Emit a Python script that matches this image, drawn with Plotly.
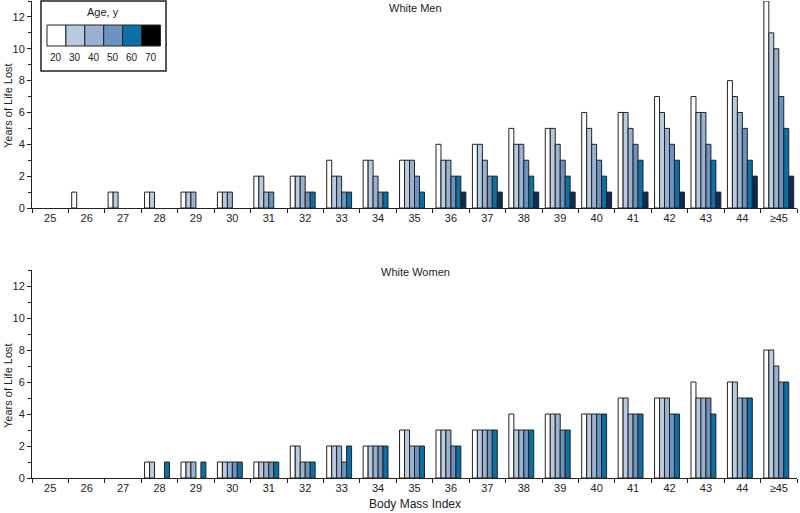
import plotly.graph_objects as go
from plotly.subplots import make_subplots

bmi_labels = ['25', '26', '27', '28', '29', '30', '31', '32', '33', '34', '35',
              '36', '37', '38', '39', '40', '41', '42', '43', '44', '≥45']
ages = ['20', '30', '40', '50', '60', '70']

men_20 = [0, 1, 1, 1, 1, 1, 2, 2, 3, 3, 3, 4, 4, 5, 5, 6, 6, 7, 7, 8, 13]
men_30 = [0, 0, 1, 1, 1, 1, 2, 2, 2, 3, 3, 3, 4, 4, 5, 5, 6, 6, 6, 7, 11]
men_40 = [0, 0, 0, 0, 1, 1, 1, 2, 2, 2, 3, 3, 3, 4, 4, 4, 5, 5, 6, 6, 10]
men_50 = [0, 0, 0, 0, 0, 0, 1, 1, 1, 1, 2, 2, 2, 3, 3, 3, 4, 4, 4, 5, 7]
men_60 = [0, 0, 0, 0, 0, 0, 0, 1, 1, 1, 1, 2, 2, 2, 2, 2, 3, 3, 3, 3, 5]
men_70 = [0, 0, 0, 0, 0, 0, 0, 0, 0, 0, 0, 1, 1, 1, 1, 1, 1, 1, 1, 2, 2]

women_20 = [0, 0, 0, 1, 1, 1, 1, 2, 2, 2, 3, 3, 3, 4, 4, 4, 5, 5, 6, 6, 8]
women_30 = [0, 0, 0, 1, 1, 1, 1, 2, 2, 2, 3, 3, 3, 3, 4, 4, 5, 5, 5, 6, 8]
women_40 = [0, 0, 0, 0, 1, 1, 1, 1, 2, 2, 2, 3, 3, 3, 4, 4, 4, 5, 5, 5, 7]
women_50 = [0, 0, 0, 0, 0, 1, 1, 1, 1, 2, 2, 2, 3, 3, 3, 4, 4, 4, 5, 5, 6]
women_60 = [0, 0, 0, 1, 1, 1, 1, 1, 2, 2, 2, 2, 3, 3, 3, 4, 4, 4, 4, 5, 6]
women_70 = [0, 0, 0, 0, 0, 0, 0, 0, 0, 0, 0, 0, 0, 0, 0, 0, 0, 0, 0, 0, 0]

men = [men_20, men_30, men_40, men_50, men_60, men_70]
women = [women_20, women_30, women_40, women_50, women_60, women_70]

bar_colors = ['#ffffff', '#b9cbe0', '#9ab2d2', '#6c93bf', '#0a70a6', '#0b2c58']
legend_colors = ['#ffffff', '#b9cbe0', '#9ab2d2', '#6c93bf', '#0a70a6', '#000000']

FONT = 'Liberation Sans, Arial, sans-serif'
W, H = 800, 513
ML, MR, MT, MB = 32, 3, 1, 35
PW, PH = W - ML - MR, H - MT - MB


def px_x(x):
    return (x - ML) / PW


def px_y(y):
    return (H - MB - y) / PH


fig = make_subplots(rows=2, cols=1, vertical_spacing=0.0)

for row, data in ((1, men), (2, women)):
    for age, vals, col in zip(ages, data, bar_colors):
        fig.add_trace(go.Bar(
            x=bmi_labels, y=vals, name=age, showlegend=False,
            marker=dict(color=col, line=dict(color='#222222',
                                             width=[1 if v else 0 for v in vals])),
        ), row=row, col=1)

top_dom = [px_y(208), 1.0]
bot_dom = [0.0, px_y(270)]

axis_common = dict(
    showline=True, linecolor='#222222', linewidth=1, showgrid=False,
    zeroline=False, tickfont=dict(family=FONT, size=11, color='#222222'),
    automargin=False,
)

for i, dom in ((1, top_dom), (2, bot_dom)):
    fig.update_layout({
        f'xaxis{"" if i == 1 else i}': dict(
            **axis_common, type='category', ticks='outside', ticklen=4,
            tickcolor='#222222', tickson='boundaries',
        ),
        f'yaxis{"" if i == 1 else i}': dict(
            **axis_common, domain=dom, range=[0, 13],
            tickvals=[0, 2, 4, 6, 8, 10, 12], ticks='outside', ticklen=4,
            tickcolor='#222222',
            minor=dict(dtick=1, tick0=0, ticks='outside', ticklen=3,
                       tickcolor='#222222', showgrid=False),
        ),
    })


def ann(text, x, y, size=11, angle=0):
    return dict(text=text, x=px_x(x), y=px_y(y), xref='paper', yref='paper',
                xanchor='center', yanchor='middle', showarrow=False,
                textangle=angle, font=dict(family=FONT, size=size, color='#222222'))


annotations = [
    ann('White Men', 415, 8),
    ann('White Women', 415, 272),
    ann('Years of Life Lost', 8, 106, angle=-90),
    ann('Years of Life Lost', 8, 386, angle=-90),
    ann('Body Mass Index', 415, 504, size=12),
    ann('Age, y', 103, 12),
]

shapes = [dict(type='rect', xref='paper', yref='paper',
               x0=px_x(41), x1=px_x(166), y0=px_y(71), y1=px_y(1),
               line=dict(color='#222222', width=1.5), fillcolor='white', layer='above')]

sw_x0, sw_w = 47, 18.9
for k, (age, col) in enumerate(zip(ages, legend_colors)):
    x0 = sw_x0 + k * sw_w
    shapes.append(dict(type='rect', xref='paper', yref='paper',
                       x0=px_x(x0), x1=px_x(x0 + sw_w), y0=px_y(46), y1=px_y(25),
                       line=dict(color='#222222', width=1), fillcolor=col, layer='above'))
    annotations.append(ann(age, x0 + sw_w / 2, 58, size=10))

fig.update_layout(
    width=W, height=H,
    margin=dict(l=ML, r=MR, t=MT, b=MB),
    barmode='group', bargap=0.18, bargroupgap=0.0,
    plot_bgcolor='white', paper_bgcolor='white',
    annotations=annotations, shapes=shapes,
    font=dict(family=FONT, size=11, color='#222222'),
)

fig.write_html('out.html', config={'displayModeBar': False},
               post_script="document.body.style.margin='0';")
